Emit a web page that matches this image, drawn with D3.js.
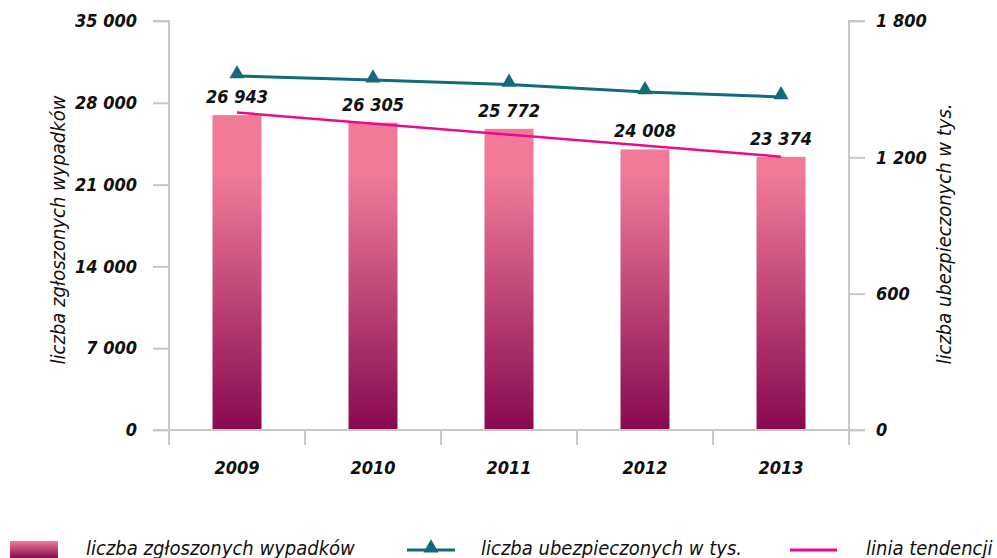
<!DOCTYPE html>
<html><head><meta charset="utf-8">
<script src="https://cdn.jsdelivr.net/npm/d3@7"></script>
<style>
body{margin:0;background:#fff;}
svg{display:block;font-family:"DejaVu Sans Condensed","DejaVu Sans",sans-serif;font-style:italic;font-stretch:condensed;}
</style></head>
<body>
<svg id="c" width="997" height="558"></svg>
<script>
const years = ["2009","2010","2011","2012","2013"];
const accidents = [26943, 26305, 25772, 24008, 23374];
const insured = [1558, 1540, 1521, 1488, 1466];
const trendYears = ["2009","2013"];
const trendValues = [27167, 23393];
const leftTicks = [0, 7000, 14000, 21000, 28000, 35000];
const rightTicks = [0, 600, 1200, 1800];
const leftTitle = "liczba zgłoszonych wypadków";
const rightTitle = "liczba ubezpieczonych w tys.";
const legendLabels = ["liczba zgłoszonych wypadków", "liczba ubezpieczonych w tys.", "linia tendencji"];

const svg = d3.select("#c");
const L = 169, R = 849, T = 21, B = 430;
const fmt = v => d3.format(",")(v).replace(/,/g, " ");

const x = d3.scaleBand().domain(years).range([L, R]).paddingInner(0).paddingOuter(0);
const yL = d3.scaleLinear().domain([0, 35000]).range([B, T]);
const yR = d3.scaleLinear().domain([0, 1800]).range([B, T]);

const defs = svg.append("defs");
const g = defs.append("linearGradient").attr("id","bg").attr("gradientUnits","userSpaceOnUse")
  .attr("x1",0).attr("x2",0).attr("y1",175).attr("y2",B);
g.append("stop").attr("offset","0").attr("stop-color","#F07A98");
g.append("stop").attr("offset","1").attr("stop-color","#870A50");
const lg = defs.append("linearGradient").attr("id","lg").attr("x1",0).attr("x2",0).attr("y1",0).attr("y2",1);
lg.append("stop").attr("offset","0").attr("stop-color","#F07A98");
lg.append("stop").attr("offset","1").attr("stop-color","#870A50");

const axisColor = "#c8c8c8";
const FF = "'DejaVu Sans Condensed', 'DejaVu Sans', sans-serif";
const tickFont = `bold italic condensed 18px ${FF}`;
const titleFont = `italic condensed 20px ${FF}`;

// bars
const bw = 49;
svg.append("g").selectAll("rect").data(years).join("rect")
  .attr("x", d => x(d) + x.bandwidth()/2 - bw/2)
  .attr("width", bw)
  .attr("y", (d,i) => yL(accidents[i]))
  .attr("height", (d,i) => B - yL(accidents[i]))
  .attr("fill", "url(#bg)");

// axes
const ax = svg.append("g").attr("transform", `translate(${L},0)`)
  .call(d3.axisLeft(yL).tickValues(leftTicks).tickFormat(fmt).tickSize(16).tickPadding(16));
const ax2 = svg.append("g").attr("transform", `translate(${R},0)`)
  .call(d3.axisRight(yR).tickValues(rightTicks).tickFormat(fmt).tickSize(16).tickPadding(11));
const ax3 = svg.append("g").attr("transform", `translate(0,${B})`)
  .call(d3.axisBottom(x).tickSize(15).tickPadding(13));
ax3.selectAll(".tick line").remove();
ax3.selectAll(".bt").data(d3.range(years.length+1)).join("line")
  .attr("x1", i => L + i*x.bandwidth()).attr("x2", i => L + i*x.bandwidth())
  .attr("y1", 0).attr("y2", 15).attr("stroke", axisColor).attr("stroke-width", 2);
[ax, ax2, ax3].forEach(a => {
  a.select(".domain").attr("stroke", axisColor).attr("stroke-width", 2);
  a.selectAll(".tick line").attr("stroke", axisColor).attr("stroke-width", 2);
  a.selectAll("text").style("font", tickFont).attr("fill", "#111");
});
ax.select(".domain").attr("d", `M-16,${T}H0V${B}H-16`);
ax2.select(".domain").attr("d", `M16,${T}H0V${B}H16`);
ax3.select(".domain").attr("d", `M${L-16},0H${R}`);
ax3.selectAll("text").attr("dy", "0.9em");

// line insured
const lineR = d3.line().x((d,i) => x(years[i]) + x.bandwidth()/2).y(d => yR(d));
svg.append("path").datum(insured).attr("d", lineR).attr("fill","none")
  .attr("stroke","#146A78").attr("stroke-width",3);
const tri = d3.symbol().type(d3.symbolTriangle).size(100);
svg.append("g").selectAll("path").data(insured).join("path")
  .attr("d", tri)
  .attr("transform", (d,i) => `translate(${x(years[i]) + x.bandwidth()/2},${yR(d) - 2})`)
  .attr("fill", "#146A78");

// trend line
const lineT = d3.line().x((d,i) => x(trendYears[i]) + x.bandwidth()/2).y(d => yL(d));
svg.append("path").datum(trendValues).attr("d", lineT).attr("fill","none")
  .attr("stroke","#EC0A8C").attr("stroke-width",2.5);

// data labels
svg.append("g").selectAll("text").data(accidents).join("text")
  .attr("x", (d,i) => x(years[i]) + x.bandwidth()/2)
  .attr("y", d => yL(d) - 12)
  .attr("text-anchor","middle")
  .style("font", tickFont).attr("fill","#111")
  .text(fmt);

// axis titles
svg.append("text").attr("transform", `translate(65,230) rotate(-90)`)
  .attr("text-anchor","middle").style("font", titleFont).attr("fill","#111")
  .text(leftTitle);
svg.append("text").attr("transform", `translate(951,234) rotate(-90)`)
  .attr("text-anchor","middle").style("font", titleFont).attr("fill","#111")
  .text(rightTitle);

// legend
const lgY = 550;
const leg = svg.append("g");
leg.append("rect").attr("x",10).attr("y",541).attr("width",48).attr("height",17).attr("fill","url(#lg)");
leg.append("line").attr("x1",407).attr("x2",455).attr("y1",lgY).attr("y2",lgY).attr("stroke","#146A78").attr("stroke-width",3);
leg.append("path").attr("d", tri).attr("transform",`translate(431,${lgY-2})`).attr("fill","#146A78");
leg.append("line").attr("x1",790).attr("x2",837).attr("y1",lgY).attr("y2",lgY).attr("stroke","#EC0A8C").attr("stroke-width",3);
const lx = [86, 481, 866];
leg.selectAll("text.l").data(legendLabels).join("text")
  .attr("x",(d,i)=>lx[i]).attr("y",555)
  .style("font", titleFont).attr("fill","#111")
  .text(d=>d);
</script>
</body></html>
